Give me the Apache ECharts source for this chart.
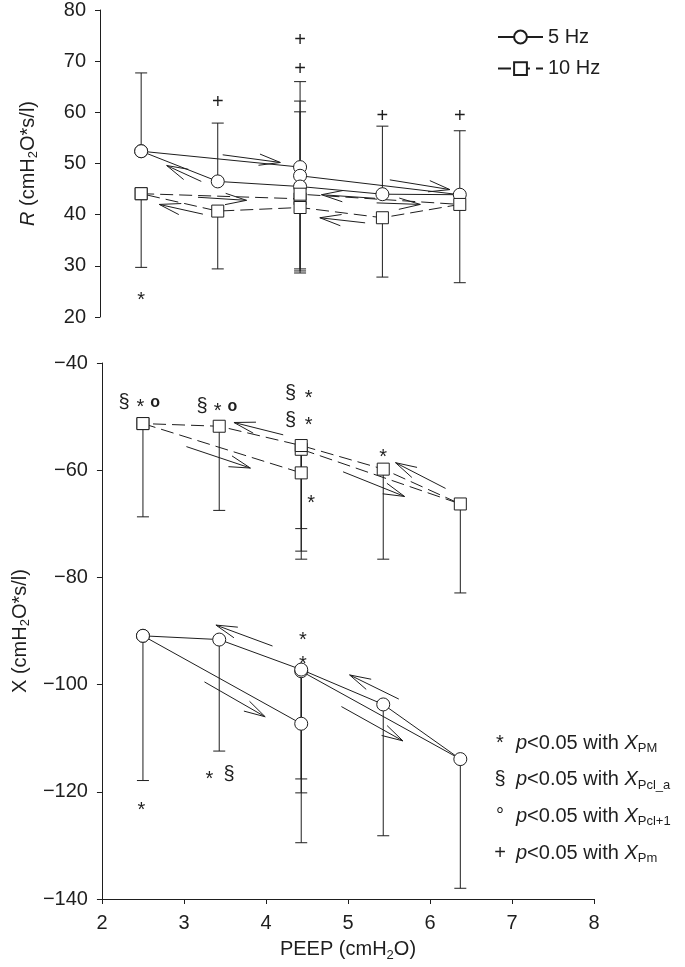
<!DOCTYPE html>
<html><head><meta charset="utf-8">
<script src="https://cdn.jsdelivr.net/npm/echarts@6/dist/echarts.min.js"></script>
<style>html,body{margin:0;padding:0;background:#fff}#c{width:685px;height:967px}</style>
</head><body><div id="c"></div>
<script>
// ---------- data (PEEP in cmH2O, values in cmH2O*s/l) ----------
const peepTicks = [2, 3, 4, 5, 6, 7, 8];
const rTicks = [20, 30, 40, 50, 60, 70, 80];
const xTicks = [-140, -120, -100, -80, -60, -40];

// measurement sequence (increasing then decreasing PEEP)
const r5Hz  = [[2.5,52.4],[4.43,49.3],[4.43,47.6],[6.37,43.9],[5.43,44.0],[4.43,45.5],[3.43,46.5],[2.5,52.4]];
const r5HzEnd  = [67.7, 66.0, 62.2, 56.4, 57.3, 60.1, 57.9];
const r10Hz = [[2.5,44.1],[4.43,43.1],[4.43,44.0],[6.37,42.0],[5.43,39.4],[4.43,41.4],[3.43,40.7],[2.5,44.1]];
const r10HzEnd = [29.7, 29.0, 28.6, 26.7, 27.8, 29.4, 29.4];

const x5Hz  = [[2.5,-90.9],[4.43,-107.3],[4.43,-97.5],[6.37,-113.9],[5.43,-103.7],[4.43,-97.2],[3.43,-91.6],[2.5,-90.9]];
const x5HzEnd  = [-117.9, -129.5, -120.2, -138.0, -128.2, -117.6, -112.4];
const x10Hz = [[2.5,-51.3],[4.43,-60.5],[4.43,-56.1],[6.37,-66.3],[5.43,-59.8],[4.43,-55.4],[3.43,-51.8],[2.5,-51.3]];
const x10HzEnd = [-68.7, -76.6, -75.1, -82.9, -76.6, -70.9, -67.5];

// direction arrows [xFrom, yFrom, xTo, yTo]
const rArrows = [[3.49,51.7,4.19,50.2],[3.23,46.5,2.81,49.6],[3.19,43.4,3.78,42.8],[3.25,40.1,2.72,42.0],
                 [5.34,43.2,4.69,43.9],[5.22,38.4,4.67,39.4],[5.52,46.8,6.25,44.9],[5.36,42.3,5.89,42.0]];
const xArrows = [[3.03,-55.6,3.81,-59.6],[4.21,-53.4,3.61,-51.1],[6.19,-63.4,5.58,-58.6],[4.94,-60.3,5.69,-64.9],
                 [4.08,-92.8,3.39,-88.9],[3.25,-99.5,3.99,-106.0],[5.62,-102.7,5.02,-98.2],[4.92,-104.1,5.67,-110.5]];

// significance marks [x, y, symbol]
const rMarks = [[2.5,24.3,'*'],[3.43,61.9,'+'],[4.43,74.0,'+'],[4.43,68.3,'+'],[5.43,59.1,'+'],[6.37,59.1,'+']];
const xMarks = [[2.27,-47.3,'§'],[2.47,-47.3,'*'],[2.65,-47.3,'o'],
                [3.22,-48.2,'§'],[3.41,-48.2,'*'],[3.59,-48.2,'o'],
                [4.30,-45.7,'§'],[4.52,-45.7,'*'],[4.30,-50.8,'§'],[4.52,-50.8,'*'],
                [4.55,-65.2,'*'],[5.43,-56.7,'*'],
                [4.45,-90.9,'*'],[4.45,-95.3,'*'],[3.31,-116.7,'*'],[3.55,-116.7,'§'],[2.48,-122.5,'*']];

const legendRows = [['*','PM'],['§','Pcl_a'],['°','Pcl+1'],['+','Pm']];

// ---------- styling ----------
const INK = '#1e1e1e';
const FONT = '"Liberation Sans", Arial, Helvetica, sans-serif';
const FS = 20;
const subRich = {
  i: {fontStyle:'italic', fontSize:FS, fontFamily:FONT, color:INK, lineHeight:24},
  sub: {fontSize:13, fontFamily:FONT, color:INK, lineHeight:14, verticalAlign:'bottom'}
};
const minus = v => String(v).replace('-', '\u2212');

function whiskers(path, ends){
  return ends.map((e, i) => [path[i][0], path[i][1], e]);
}
function whiskerItem(params, api){
  const p0 = api.coord([api.value(0), api.value(1)]);
  const p1 = api.coord([api.value(0), api.value(2)]);
  return {type:'group', children:[
    {type:'line', shape:{x1:p0[0],y1:p0[1],x2:p1[0],y2:p1[1]}, style:{stroke:INK,lineWidth:1}},
    {type:'line', shape:{x1:p1[0]-6,y1:p1[1],x2:p1[0]+6,y2:p1[1]}, style:{stroke:INK,lineWidth:1}}
  ]};
}
function arrowItem(params, api){
  const a = api.coord([api.value(0), api.value(1)]);
  const b = api.coord([api.value(2), api.value(3)]);
  const ang = Math.atan2(b[1]-a[1], b[0]-a[0]);
  const L = 22, t = 0.26;
  const h1 = [b[0]-L*Math.cos(ang-t), b[1]-L*Math.sin(ang-t)];
  const h2 = [b[0]-L*Math.cos(ang+t), b[1]-L*Math.sin(ang+t)];
  return {type:'group', children:[
    {type:'line', shape:{x1:a[0],y1:a[1],x2:b[0],y2:b[1]}, style:{stroke:INK,lineWidth:1}},
    {type:'polyline', shape:{points:[h1,b,h2]}, style:{stroke:INK,lineWidth:1,fill:null}}
  ]};
}
function markItemFactory(marks){
  return function(params, api){
    const m = marks[params.dataIndex];
    const p = api.coord([m[0], m[1]]);
    let dy = 0, fs = FS, fw = 'normal';
    if (m[2] === '*') dy = 5;
    if (m[2] === 'o') { fs = 16; fw = 'bold'; }
    return {type:'text', x:p[0], y:p[1]+dy,
      style:{text:m[2], fontSize:fs, fontWeight:fw, fontFamily:FONT, fill:INK, align:'center', verticalAlign:'middle'}};
  };
}

const lineCommon = {type:'line', z:3, lineStyle:{color:INK,width:1}, itemStyle:{color:'#fff',borderColor:INK,borderWidth:1}, animation:false, emphasis:{disabled:true}};

const chart = echarts.init(document.getElementById('c'), null, {renderer:'canvas'});
const axisBase = {
  axisLine:{show:true, lineStyle:{color:INK,width:1}},
  axisTick:{show:true, length:5, inside:false, lineStyle:{color:INK}},
  axisLabel:{color:INK, fontSize:FS, fontFamily:FONT, formatter:minus},
  splitLine:{show:false}
};
chart.setOption({
  animation:false,
  backgroundColor:'#fff',
  grid:[
    {left:100, right:91, top:7, height:310},
    {left:100, right:91, top:363, bottom:68}
  ],
  xAxis:[
    {type:'value', gridIndex:0, min:peepTicks[0], max:peepTicks[peepTicks.length-1], interval:1, show:false},
    Object.assign({}, axisBase, {type:'value', gridIndex:1, min:peepTicks[0], max:peepTicks[peepTicks.length-1], interval:1,
      axisLabel:Object.assign({}, axisBase.axisLabel, {margin:14}),
      name:'PEEP (cmH{sub|2}O)', nameLocation:'middle', nameGap:37,
      nameTextStyle:{fontSize:FS, fontFamily:FONT, color:INK, lineHeight:24, rich:subRich}})
  ],
  yAxis:[
    Object.assign({}, axisBase, {type:'value', gridIndex:0, min:rTicks[0], max:rTicks[rTicks.length-1], interval:10,
      axisLabel:Object.assign({}, axisBase.axisLabel, {margin:14}),
      name:'{i|R} (cmH{sub|2}O*s/l)', nameLocation:'middle', nameGap:60,
      nameTextStyle:{fontSize:FS, fontFamily:FONT, color:INK, lineHeight:24, rich:subRich}}),
    Object.assign({}, axisBase, {type:'value', gridIndex:1, min:xTicks[0], max:xTicks[xTicks.length-1], interval:20,
      axisLabel:Object.assign({}, axisBase.axisLabel, {margin:14}),
      name:'X (cmH{sub|2}O*s/l)', nameLocation:'middle', nameGap:60,
      nameTextStyle:{fontSize:FS, fontFamily:FONT, color:INK, lineHeight:24, rich:subRich}})
  ],
  legend:{
    data:['5 Hz','10 Hz'], orient:'vertical', left:492, top:22, itemWidth:45, itemHeight:16, itemGap:11.6,
    textStyle:{fontSize:FS, fontFamily:FONT, color:INK, lineHeight:20}, selectedMode:false
  },
  series:[
    {type:'custom', xAxisIndex:0, yAxisIndex:0, z:1, renderItem:whiskerItem, data:whiskers(r5Hz, r5HzEnd), silent:true},
    {type:'custom', xAxisIndex:0, yAxisIndex:0, z:1, renderItem:whiskerItem, data:whiskers(r10Hz, r10HzEnd), silent:true},
    {type:'custom', xAxisIndex:1, yAxisIndex:1, z:1, renderItem:whiskerItem, data:whiskers(x5Hz, x5HzEnd), silent:true},
    {type:'custom', xAxisIndex:1, yAxisIndex:1, z:1, renderItem:whiskerItem, data:whiskers(x10Hz, x10HzEnd), silent:true},
    {type:'custom', xAxisIndex:0, yAxisIndex:0, z:2, renderItem:arrowItem, data:rArrows, silent:true},
    {type:'custom', xAxisIndex:1, yAxisIndex:1, z:2, renderItem:arrowItem, data:xArrows, silent:true},
    {type:'custom', xAxisIndex:0, yAxisIndex:0, z:4, renderItem:markItemFactory(rMarks), data:rMarks.map(m=>[m[0],m[1]]), silent:true},
    {type:'custom', xAxisIndex:1, yAxisIndex:1, z:4, renderItem:markItemFactory(xMarks), data:xMarks.map(m=>[m[0],m[1]]), silent:true},
    Object.assign({}, lineCommon, {name:'5 Hz', xAxisIndex:0, yAxisIndex:0, data:r5Hz, symbol:'circle', symbolSize:13}),
    Object.assign({}, lineCommon, {name:'10 Hz', xAxisIndex:0, yAxisIndex:0, data:r10Hz, symbol:'rect', symbolSize:12,
      lineStyle:{color:INK,width:1,type:[13,6]}}),
    Object.assign({}, lineCommon, {name:'5 Hz', xAxisIndex:1, yAxisIndex:1, data:x5Hz, symbol:'circle', symbolSize:13}),
    Object.assign({}, lineCommon, {name:'10 Hz', xAxisIndex:1, yAxisIndex:1, data:x10Hz, symbol:'rect', symbolSize:12,
      lineStyle:{color:INK,width:1,type:[13,6]}})
  ],
  graphic: legendRows.flatMap((row, k) => {
    const y = 743 + k * 36.7;
    return [
      {type:'text', x:500, y:y, style:{text:row[0], fontSize:FS, fontFamily:FONT, fill:INK, align:'center', verticalAlign:'middle'}},
      {type:'text', x:516, y:y, style:{
        text:'{i|p}<0.05 with {i|X}{sub|' + row[1] + '}',
        fontSize:FS, fontFamily:FONT, fill:INK, align:'left', verticalAlign:'middle', lineHeight:24, rich:subRich}}
    ];
  })
});
</script></body></html>
